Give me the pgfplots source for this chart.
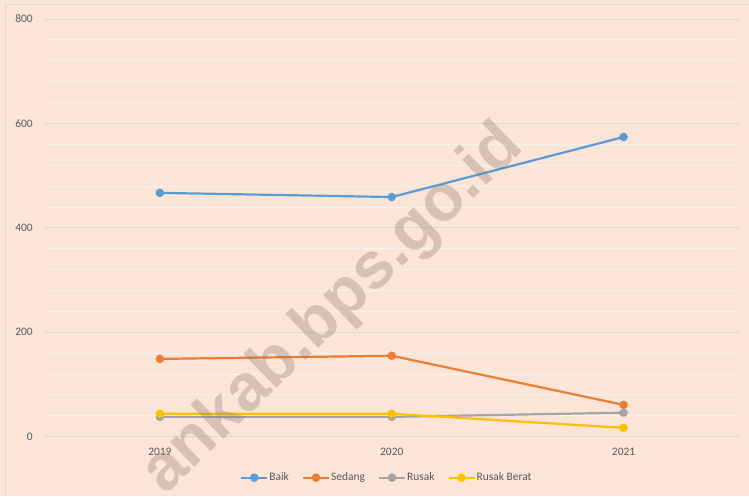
\documentclass[border=0pt]{standalone}
\usepackage{pgfplots}
\pgfplotsset{compat=1.18}
\usepackage{fontspec}
\setmainfont{Carlito}
\newfontfamily\wmfont{Liberation Sans}
\definecolor{bgpeach}{RGB}{251,229,214}
\definecolor{bordergray}{RGB}{217,217,217}
\definecolor{gridmaj}{RGB}{217,217,217}
\definecolor{gridmin}{RGB}{242,242,242}
\definecolor{cbaik}{RGB}{91,155,213}
\definecolor{csedang}{RGB}{237,125,49}
\definecolor{crusak}{RGB}{165,165,165}
\definecolor{cberat}{RGB}{255,192,0}
\definecolor{wm}{RGB}{134,112,107}
\definecolor{txtgray}{RGB}{89,89,89}

\begin{document}
\begin{tikzpicture}[x=1bp,y=1bp]
\fill[bgpeach] (0,0) rectangle (749,496);
\draw[bordergray, line width=1bp] (6,0) -- (6,491) -- (749,491);
\useasboundingbox (0,0) rectangle (749,496);
\begin{axis}[
  at={(44bp,59bp)}, anchor=south west,
  scale only axis, width=696bp, height=418bp,
  xmin=-0.5, xmax=2.5, ymin=0, ymax=800,
  xtick={0,1,2}, xticklabels={2019,2020,2021},
  ytick={0,200,400,600,800},
  minor ytick={40,80,120,160,240,280,320,360,440,480,520,560,640,680,720,760},
  ymajorgrids, yminorgrids,
  major grid style={draw=gridmaj, line width=0.9bp},
  minor grid style={draw=gridmin, line width=0.9bp},
  axis line style={draw=none},
  major tick length=0pt, minor tick length=0pt,
  /pgf/number format/assume math mode=true,
  tick label style={font=\fontsize{11.5}{13}\selectfont, text=txtgray},
  yticklabel style={inner sep=0pt, xshift=-11bp},
  xticklabel style={inner sep=0pt, yshift=-11bp},
  legend columns=4,
  legend style={at={(0.493,-0.098)}, anchor=center, draw=none, fill=none,
    font=\fontsize{11.5}{13}\selectfont, text=txtgray,
    /tikz/every odd column/.append style={column sep=-1bp},
    /tikz/every even column/.append style={column sep=11bp}},
  legend image code/.code={
    \draw[#1] (0bp,0bp) -- (26bp,0bp);
    \draw[#1, mark repeat=1] plot coordinates {(13bp,0bp)};
  },
  every axis plot/.append style={line width=2.2bp, mark=*, mark size=3.1bp},
]
\addplot[cbaik, mark options={fill=cbaik, draw=cbaik}] coordinates {(0,467) (1,459) (2,574)};
\addlegendentry{Baik}
\addplot[csedang, mark options={fill=csedang, draw=csedang}] coordinates {(0,149) (1,155) (2,61)};
\addlegendentry{Sedang}
\addplot[crusak, mark options={fill=crusak, draw=crusak}] coordinates {(0,38) (1,38) (2,46)};
\addlegendentry{Rusak}
\addplot[cberat, mark options={fill=cberat, draw=cberat}] coordinates {(0,44) (1,44) (2,17)};
\addlegendentry{Rusak Berat}
\end{axis}
\node[rotate=44, text=wm, opacity=0.3, font=\wmfont\bfseries\fontsize{66}{70}\selectfont, inner sep=0pt] at (334,186) {ankab.bps.go.id};
\end{tikzpicture}
\end{document}
